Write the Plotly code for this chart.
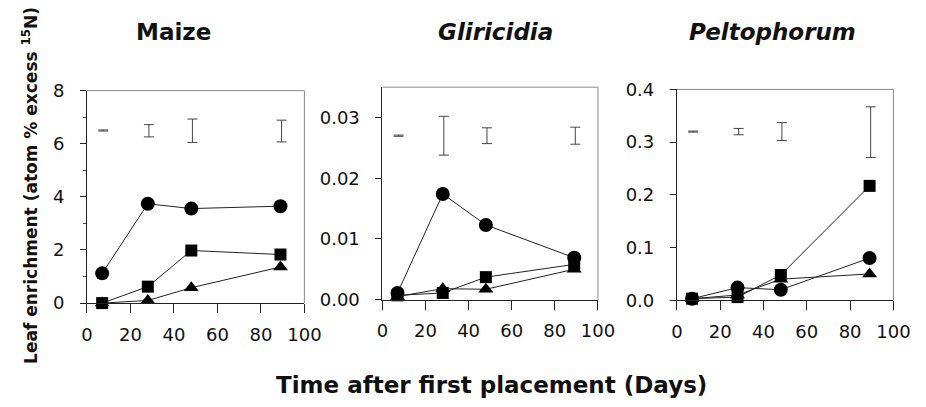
import plotly.graph_objects as go

W, H = 926, 407

days = [7, 28, 48, 89]
err_days = [7.5, 28.5, 48.5, 89.5]

# Maize
maize_circle = [1.12, 3.74, 3.56, 3.65]
maize_square = [0.0, 0.62, 1.98, 1.83]
maize_triangle = [0.0, 0.10, 0.58, 1.36]
maize_err_center = [6.50, 6.49, 6.49, 6.48]
maize_err_half = [0.02, 0.23, 0.44, 0.41]

# Gliricidia
glir_circle = [0.0011, 0.0174, 0.0123, 0.0069]
glir_square = [0.0007, 0.0011, 0.0037, 0.0058]
glir_triangle = [0.0005, 0.0018, 0.0017, 0.0050]
glir_err_center = [0.0270, 0.0270, 0.0270, 0.0270]
glir_err_half = [0.0001, 0.0032, 0.0013, 0.0014]

# Peltophorum
pelt_circle = [0.003, 0.024, 0.020, 0.080]
pelt_square = [0.003, 0.006, 0.048, 0.217]
pelt_triangle = [0.003, 0.010, 0.040, 0.050]
pelt_err_center = [0.320, 0.320, 0.320, 0.319]
pelt_err_half = [0.001, 0.006, 0.017, 0.048]

titles = ["<b>Maize</b>", "<b><i>Gliricidia</i></b>", "<b><i>Peltophorum</i></b>"]
title_x = [172, 502, 786]
x_title = "<b>Time after first placement (Days)</b>"
y_title = "<b>Leaf enrichment (atom % excess <sup>15</sup>N)</b>"

x_ticks = [0, 20, 40, 60, 80, 100]
y_ticks = [
    ([0, 2, 4, 6, 8], ["0", "2", "4", "6", "8"]),
    ([0, 0.01, 0.02, 0.03], ["0.00", "0.01", "0.02", "0.03"]),
    ([0, 0.1, 0.2, 0.3, 0.4], ["0.0", "0.1", "0.2", "0.3", "0.4"]),
]
y_ranges = [[0, 8], [0, 0.035], [0, 0.4]]

# pixel geometry of panels (left, right, top, bottom)
panels_px = [(83, 306, 84, 308), (386, 607, 80.3, 304.3), (688, 910, 82.7, 305)]

FONT = "DejaVu Sans, Verdana, sans-serif"

fig = go.Figure()

data = [
    (maize_circle, maize_square, maize_triangle, maize_err_center, maize_err_half),
    (glir_circle, glir_square, glir_triangle, glir_err_center, glir_err_half),
    (pelt_circle, pelt_square, pelt_triangle, pelt_err_center, pelt_err_half),
]

layout_axes = {}
for i, (c, s, t, ec, eh) in enumerate(data):
    n = i + 1
    xa = "x" if n == 1 else f"x{n}"
    ya = "y" if n == 1 else f"y{n}"
    for vals, sym, size in [(c, "circle", 14), (s, "square", 12), (t, "triangle-up", 13)]:
        fig.add_trace(go.Scatter(
            x=days, y=vals, mode="lines+markers", xaxis=xa, yaxis=ya,
            line=dict(color="#222", width=1),
            marker=dict(symbol=sym, size=size, color="black"),
            cliponaxis=False, showlegend=False,
        ))
    fig.add_trace(go.Scatter(
        x=err_days, y=ec, mode="markers", xaxis=xa, yaxis=ya,
        marker=dict(size=1, color="rgba(0,0,0,0)"),
        error_y=dict(type="data", array=eh, visible=True, color="#444",
                     thickness=1, width=5),
        cliponaxis=False, showlegend=False,
    ))
    l, r, tp, b = panels_px[i]
    xkey = "xaxis" if n == 1 else f"xaxis{n}"
    ykey = "yaxis" if n == 1 else f"yaxis{n}"
    layout_axes[xkey] = dict(
        domain=[l / W, r / W], range=[0, 100], anchor=ya,
        tickvals=x_ticks, ticks="outside", ticklen=9, tickcolor="#222",
        showline=True, linecolor="#222", linewidth=1, showgrid=False,
        zeroline=False, tickfont=dict(family=FONT, size=18, color="#111"),
        ticklabelstandoff=6,
    )
    yd = dict(
        domain=[1 - b / H, 1 - tp / H], range=y_ranges[i], anchor=xa,
        tickvals=y_ticks[i][0], ticktext=y_ticks[i][1],
        ticks="outside", ticklen=6, tickcolor="#222",
        showline=True, linecolor="#222", linewidth=1, showgrid=False,
        zeroline=False, tickfont=dict(family=FONT, size=18, color="#111"),
        ticklabelstandoff=12,
    )
    if n == 1:
        yd["minor"] = dict(tickvals=[1, 3, 5, 7], ticks="outside", ticklen=3, tickcolor="#444")
    layout_axes[ykey] = yd

shapes = []
for i in range(3):
    n = i + 1
    xa = "x" if n == 1 else f"x{n}"
    ya = "y" if n == 1 else f"y{n}"
    shapes.append(dict(type="line", xref=f"{xa} domain", yref=f"{ya} domain",
                       x0=0, x1=1, y0=1, y1=1, line=dict(color="#888", width=1)))
    shapes.append(dict(type="line", xref=f"{xa} domain", yref=f"{ya} domain",
                       x0=1, x1=1, y0=0, y1=1, line=dict(color="#888", width=1)))

annotations = []
for tx, tt in zip(title_x, titles):
    annotations.append(dict(text=tt, x=tx / W, y=1 - 22 / H, xref="paper", yref="paper",
                            showarrow=False, xanchor="center", yanchor="middle",
                            font=dict(family=FONT, size=23, color="#111")))
annotations.append(dict(text=x_title, x=498 / W, y=1 - 394 / H, xref="paper", yref="paper",
                        showarrow=False, xanchor="center", yanchor="middle",
                        font=dict(family=FONT, size=23, color="#111")))
annotations.append(dict(text=y_title, x=24 / W, y=1 - 184 / H, xref="paper", yref="paper",
                        showarrow=False, xanchor="center", yanchor="middle", textangle=-90,
                        font=dict(family=FONT, size=17, color="#111")))

fig.update_layout(
    width=W, height=H, margin=dict(l=0, r=0, t=0, b=0),
    paper_bgcolor="white", plot_bgcolor="white",
    shapes=shapes, annotations=annotations, **layout_axes,
)

fig.write_html("out.html")
